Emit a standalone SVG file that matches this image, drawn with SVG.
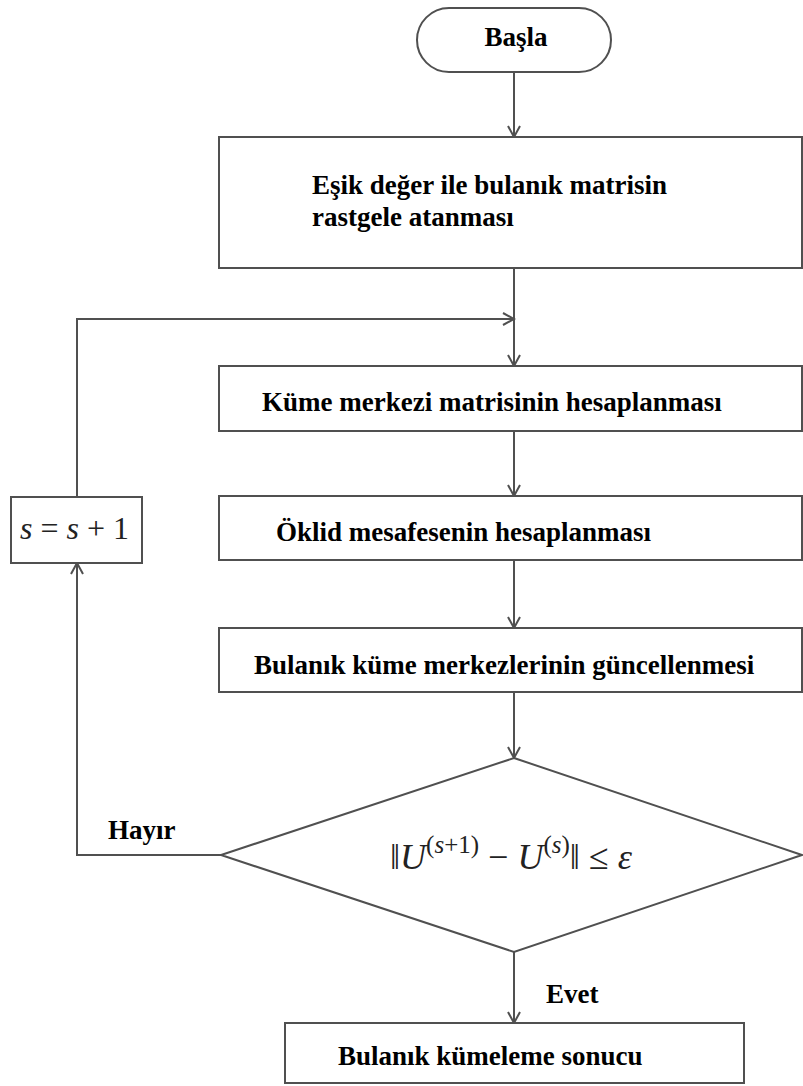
<svg xmlns="http://www.w3.org/2000/svg" width="803" height="1086" viewBox="0 0 803 1086">
<style>
.s{fill:#fff;stroke:#505050;stroke-width:2}
.c{fill:none;stroke:#505050;stroke-width:2}
.t{font-family:"Liberation Serif","Times New Roman",serif;font-weight:bold;font-size:27px;fill:#000}
.m{font-family:"Liberation Serif","Times New Roman",serif;font-size:32px;fill:#222}
</style>
<defs>
<marker id="a" markerWidth="14" markerHeight="14" refX="12" refY="7" orient="auto" markerUnits="userSpaceOnUse">
<path d="M1,1 L12,7 L1,13" fill="none" stroke="#505050" stroke-width="2"/>
</marker>
</defs>
<rect width="803" height="1086" fill="#fff"/>
<g id="connectors">
<line class="c" x1="514" y1="72" x2="514" y2="137" marker-end="url(#a)"/>
<line class="c" x1="514" y1="268" x2="514" y2="366" marker-end="url(#a)"/>
<polyline class="c" points="77,497 77,319 514,319" marker-end="url(#a)"/>
<line class="c" x1="514" y1="431" x2="514" y2="496" marker-end="url(#a)"/>
<line class="c" x1="514" y1="560" x2="514" y2="628" marker-end="url(#a)"/>
<line class="c" x1="514" y1="692" x2="514" y2="758" marker-end="url(#a)"/>
<polyline class="c" points="221,855 77,855 77,563" marker-end="url(#a)"/>
<line class="c" x1="514" y1="952" x2="514" y2="1023" marker-end="url(#a)"/>
<text class="t" x="108" y="839">Hayır</text>
<text class="t" x="546" y="1003">Evet</text>
</g>
<g id="start">
<rect class="s" x="417" y="8" width="194" height="64" rx="32" ry="32"/>
<text class="t" x="516" y="46" text-anchor="middle">Başla</text>
</g>
<g id="init">
<rect class="s" x="219" y="137" width="583" height="131"/>
<text class="t" x="312" y="194">Eşik değer ile bulanık matrisin</text>
<text class="t" x="312" y="226">rastgele atanması</text>
</g>
<g id="centers">
<rect class="s" x="219" y="366" width="583" height="65"/>
<text class="t" x="262" y="411">Küme merkezi matrisinin hesaplanması</text>
</g>
<g id="euclid">
<rect class="s" x="219" y="496" width="583" height="64"/>
<text class="t" x="276" y="541">Öklid mesafesenin hesaplanması</text>
</g>
<g id="update">
<rect class="s" x="219" y="628" width="583" height="64"/>
<text class="t" x="254" y="674">Bulanık küme merkezlerinin güncellenmesi</text>
</g>
<g id="increment">
<rect class="s" x="11" y="497" width="131" height="66"/>
<text class="m" x="20" y="539"><tspan font-style="italic">s</tspan> = <tspan font-style="italic">s</tspan> + 1</text>
</g>
<g id="decision">
<polygon class="s" points="514,758 802,855 514,952 221,855"/>
<text class="m" x="390" y="869" style="font-size:36px">‖<tspan font-style="italic">U</tspan><tspan style="font-size:25px" dy="-16">(<tspan font-style="italic">s</tspan>+1)</tspan><tspan dy="16"> − </tspan><tspan font-style="italic">U</tspan><tspan style="font-size:25px" dy="-16">(<tspan font-style="italic">s</tspan>)</tspan><tspan dy="16">‖ ≤ </tspan><tspan font-style="italic">ε</tspan></text>
</g>
<g id="result">
<rect class="s" x="285" y="1023" width="459" height="60"/>
<text class="t" x="338" y="1065">Bulanık kümeleme sonucu</text>
</g>
</svg>
